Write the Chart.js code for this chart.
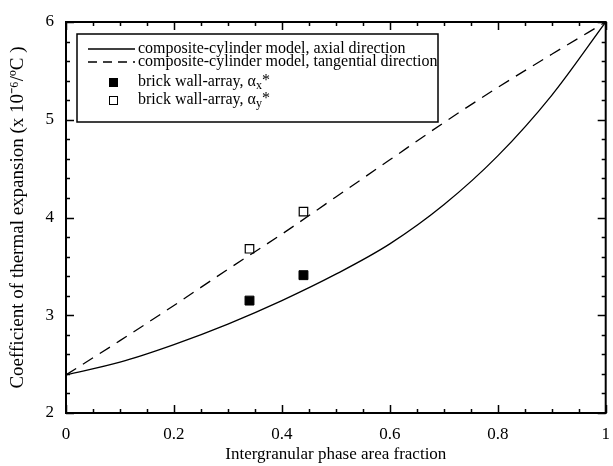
<!DOCTYPE html>
<html>
<head>
<meta charset="utf-8">
<script src="https://cdn.jsdelivr.net/npm/chart.js@4.4.0/dist/chart.umd.min.js"></script>
<style>
  html, body { margin: 0; padding: 0; background: #fff; }
  canvas { display: block; }
</style>
</head>
<body>
<canvas id="chartCte" width="613" height="466"></canvas>
<script>
// fraction of intergranular phase (x axis)
const areaFraction = [0, 0.1, 0.2, 0.3, 0.4, 0.5, 0.6, 0.7, 0.8, 0.9, 1.0];
// composite-cylinder model curves
const axialCte = [2.39, 2.52, 2.70, 2.91, 3.15, 3.42, 3.73, 4.13, 4.63, 5.25, 6.0];
const tangentialCte = [2.39, 2.74, 3.10, 3.47, 3.83, 4.21, 4.59, 4.97, 5.33, 5.67, 6.0];
// brick wall-array results
const brickFraction = [0.34, 0.44];
const brickAlphaX = [3.15, 3.41];
const brickAlphaY = [3.68, 4.06];

const xTicks = [0, 0.2, 0.4, 0.6, 0.8, 1.0];
const xTickLabels = ['0', '0.2', '0.4', '0.6', '0.8', '1'];
const yTicks = [2, 3, 4, 5, 6];
const yTickLabels = ['2', '3', '4', '5', '6'];

const legendLabels = [
  'composite-cylinder model, axial direction',
  'composite-cylinder model, tangential direction',
  'brick wall-array, \u03b1',
  'brick wall-array, \u03b1'
];
const legendSubs = ['', '', 'x', 'y'];

const serif = '"Liberation Serif", "Times New Roman", serif';

function pts(xs, ys) {
  return xs.map((x, i) => ({ x: x, y: ys[i] }));
}

// frame with inward ticks on all four sides
const framePlugin = {
  id: 'frame',
  afterDatasetsDraw(chart) {
    const { ctx, chartArea: a, scales } = chart;
    ctx.save();
    ctx.strokeStyle = '#000';
    ctx.lineWidth = 1.5;
    ctx.beginPath();
    for (let i = 0; i <= 20; i++) {
      const v = i * 0.05;
      const px = Math.round(scales.x.getPixelForValue(v)) + 0.5;
      const len = i % 4 === 0 ? 8 : 4;
      ctx.moveTo(px, a.bottom); ctx.lineTo(px, a.bottom - len);
      ctx.moveTo(px, a.top); ctx.lineTo(px, a.top + len);
    }
    for (let i = 0; i <= 20; i++) {
      const v = 2 + i * 0.2;
      const py = Math.round(scales.y.getPixelForValue(v)) + 0.5;
      const len = i % 5 === 0 ? 8 : 4;
      ctx.moveTo(a.left, py); ctx.lineTo(a.left + len, py);
      ctx.moveTo(a.right, py); ctx.lineTo(a.right - len, py);
    }
    ctx.stroke();
    ctx.lineWidth = 2;
    ctx.strokeRect(a.left, a.top, a.right - a.left, a.bottom - a.top);
    ctx.restore();
  }
};

// boxed legend in the upper left
const boxLegend = {
  id: 'boxLegend',
  afterDraw(chart) {
    const ctx = chart.ctx;
    const rows = [49, 62, 82, 100];
    const textX = 138;
    ctx.save();
    ctx.fillStyle = '#fff';
    ctx.fillRect(77, 34, 361, 88);
    ctx.strokeStyle = '#000';
    ctx.lineWidth = 1.5;
    ctx.strokeRect(77, 34, 361, 88);

    ctx.lineWidth = 1.3;
    ctx.beginPath();
    ctx.moveTo(88, rows[0]); ctx.lineTo(135, rows[0]);
    ctx.stroke();
    ctx.setLineDash([9, 6]);
    ctx.beginPath();
    ctx.moveTo(88, rows[1]); ctx.lineTo(135, rows[1]);
    ctx.stroke();
    ctx.setLineDash([]);

    ctx.fillStyle = '#000';
    ctx.fillRect(109, rows[2] - 4, 9, 9);
    ctx.lineWidth = 1;
    ctx.strokeRect(109.5, rows[3] - 3.5, 8, 8);

    ctx.textBaseline = 'middle';
    legendLabels.forEach((lbl, i) => {
      ctx.font = '16px ' + serif;
      ctx.fillText(lbl, textX, rows[i]);
      if (legendSubs[i]) {
        let x = textX + ctx.measureText(lbl).width;
        ctx.font = '12px ' + serif;
        ctx.fillText(legendSubs[i], x, rows[i] + 4);
        x += ctx.measureText(legendSubs[i]).width;
        ctx.font = '16px ' + serif;
        ctx.fillText('*', x, rows[i] - 1);
      }
    });
    ctx.restore();
  }
};

document.addEventListener('DOMContentLoaded', function () {
  const ctx = document.getElementById('chartCte').getContext('2d');

  new Chart(ctx, {
    type: 'scatter',
    data: {
      datasets: [
        {
          label: legendLabels[0],
          data: pts(areaFraction, axialCte),
          showLine: true,
          borderColor: '#000',
          borderWidth: 1.3,
          pointRadius: 0,
          cubicInterpolationMode: 'monotone'
        },
        {
          label: legendLabels[1],
          data: pts(areaFraction, tangentialCte),
          showLine: true,
          borderColor: '#000',
          borderWidth: 1.3,
          borderDash: [12, 8],
          pointRadius: 0,
          cubicInterpolationMode: 'monotone'
        },
        {
          label: legendLabels[2] + 'x*',
          data: pts(brickFraction, brickAlphaX),
          pointStyle: 'rect',
          pointRadius: 6.3,
          backgroundColor: '#000',
          borderColor: '#000',
          borderWidth: 1
        },
        {
          label: legendLabels[3] + 'y*',
          data: pts(brickFraction, brickAlphaY),
          pointStyle: 'rect',
          pointRadius: 6,
          backgroundColor: '#fff',
          borderColor: '#000',
          borderWidth: 1.2
        }
      ]
    },
    options: {
      responsive: false,
      animation: false,
      layout: { padding: { top: 22, right: 2, left: 0, bottom: 0 } },
      plugins: {
        legend: { display: false },
        tooltip: { enabled: false }
      },
      scales: {
        x: {
          type: 'linear',
          min: 0,
          max: 1,
          grid: { display: false, drawTicks: false },
          border: { display: false },
          afterBuildTicks: (s) => { s.ticks = xTicks.map(v => ({ value: v })); },
          afterFit: (s) => { s.height = 53; s.paddingLeft = 0; s.paddingRight = 0; },
          ticks: {
            autoSkip: false,
            maxRotation: 0,
            padding: 11,
            color: '#000',
            font: { family: serif, size: 17 },
            callback: (v, i) => xTickLabels[i]
          },
          title: {
            display: true,
            text: 'Intergranular phase area fraction',
            color: '#000',
            font: { family: serif, size: 17 },
            padding: { top: 0, bottom: 1 }
          }
        },
        y: {
          type: 'linear',
          min: 2,
          max: 6,
          grid: { display: false, drawTicks: false },
          border: { display: false },
          afterBuildTicks: (s) => { s.ticks = yTicks.map(v => ({ value: v })); },
          afterFit: (s) => { s.width = 66; s.paddingTop = 0; s.paddingBottom = 0; },
          ticks: {
            padding: 12,
            color: '#000',
            font: { family: serif, size: 17 },
            callback: (v, i) => yTickLabels[i]
          },
          title: {
            display: true,
            text: 'Coefficient of thermal expansion (x 10\u207b\u2076/\u00baC )',
            color: '#000',
            font: { family: serif, size: 19 },
            padding: { top: 7, bottom: 0 }
          }
        }
      }
    },
    plugins: [framePlugin, boxLegend]
  });
});
</script>
</body>
</html>
